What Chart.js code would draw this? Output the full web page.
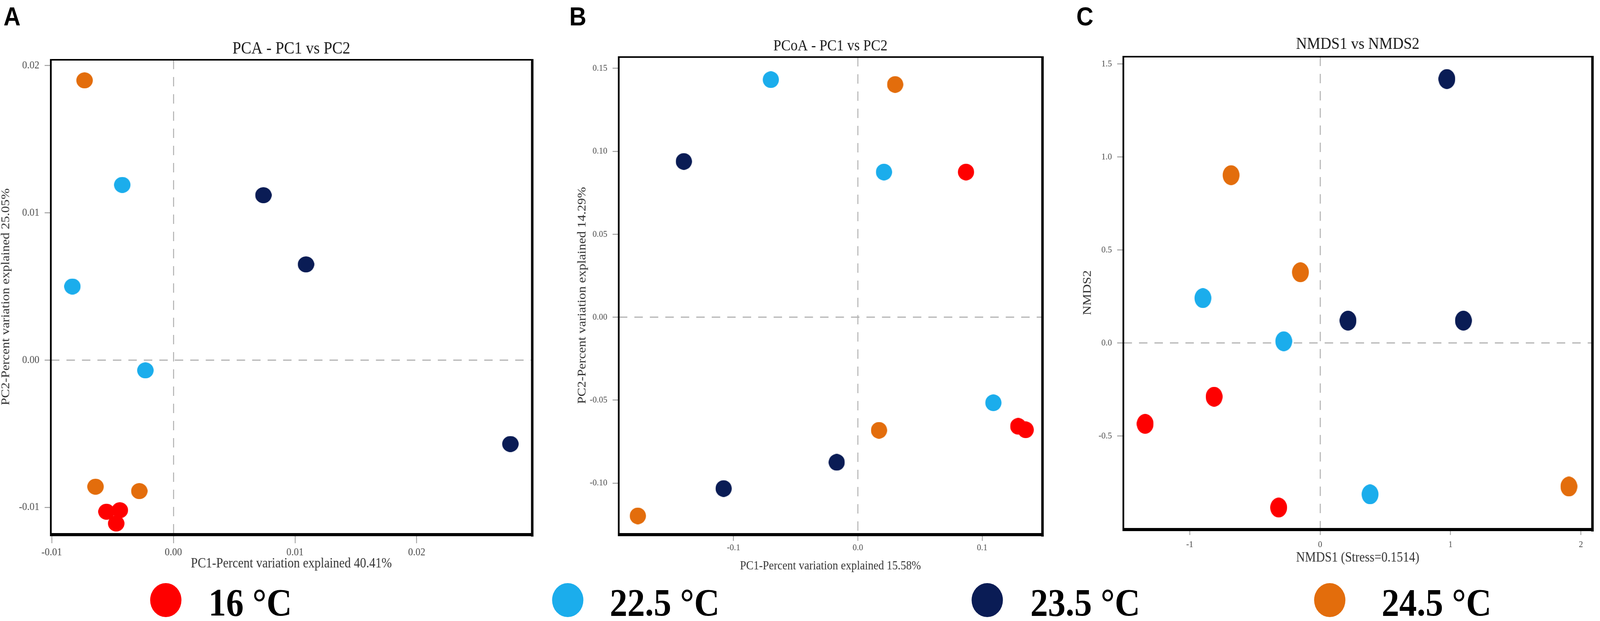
<!DOCTYPE html>
<html>
<head>
<meta charset="utf-8">
<title>PCA / PCoA / NMDS</title>
<script src="https://cdn.jsdelivr.net/npm/chart.js@4.4.1/dist/chart.umd.min.js"></script>
<style>
  html, body { margin: 0; padding: 0; background: #fff; overflow: hidden; }
  #page { position: relative; width: 4550px; height: 1589px; overflow: hidden; background: #fff; transform-origin: 0 0; }
  #page canvas { position: absolute; top: 0; }
  .tag { position: absolute; top: 8px; font: bold 67px 'Liberation Sans', Arial, sans-serif; line-height: 1; color: #000; }
  .key { position: absolute; top: 1492px; font: bold 100px 'Liberation Serif', 'Times New Roman', serif; line-height: 1; color: #000; white-space: nowrap; }
  .dot { position: absolute; border-radius: 50%; }
</style>
</head>
<body>
<div id="page">
  <div class="tag" style="left:10px">A</div>
  <div class="tag" style="left:1619px">B</div>
  <div class="tag" style="left:3061px">C</div>
  <canvas id="pca" width="1540" height="1480" style="left:0px;width:1540px;height:1480px"></canvas>
  <canvas id="pcoa" width="1400" height="1480" style="left:1600px;width:1400px;height:1480px"></canvas>
  <canvas id="nmds" width="1510" height="1480" style="left:3040px;width:1510px;height:1480px"></canvas>
</div>
<script>
// groups (temperature treatments)
var groupLabels = ['16 °C', '22.5 °C', '23.5 °C', '24.5 °C'];
var groupColors = ['#fe0000', '#1badec', '#0a1c55', '#e36d0c'];

// A: PCA, [PC1, PC2] per sample
var pca16  = [[-0.0055, -0.0103], [-0.0044, -0.0102], [-0.0047, -0.0111]];
var pca225 = [[-0.0042, 0.0119], [-0.0083, 0.0050], [-0.0023, -0.0007]];
var pca235 = [[0.0074, 0.0112], [0.0109, 0.0065], [0.0277, -0.0057]];
var pca245 = [[-0.0073, 0.0190], [-0.0064, -0.0086], [-0.0028, -0.0089]];
var pcaXTicks = [-0.01, 0, 0.01, 0.02];
var pcaXLabels = ['-0.01', '0.00', '0.01', '0.02'];
var pcaYTicks = [-0.01, 0, 0.01, 0.02];
var pcaYLabels = ['-0.01', '0.00', '0.01', '0.02'];

// B: PCoA, [PC1, PC2] per sample
var pcoa16  = [[0.087, 0.0875], [0.129, -0.0658], [0.135, -0.0679]];
var pcoa225 = [[-0.070, 0.1432], [0.021, 0.0875], [0.109, -0.0516]];
var pcoa235 = [[-0.140, 0.0939], [-0.017, -0.0875], [-0.108, -0.1033]];
var pcoa245 = [[0.030, 0.1403], [0.017, -0.0682], [-0.177, -0.1198]];
var pcoaXTicks = [-0.1, 0, 0.1];
var pcoaXLabels = ['-0.1', '0.0', '0.1'];
var pcoaYTicks = [-0.10, -0.05, 0, 0.05, 0.10, 0.15];
var pcoaYLabels = ['-0.10', '-0.05', '0.00', '0.05', '0.10', '0.15'];

// C: NMDS, [NMDS1, NMDS2] per sample
var nmds16  = [[-0.813, -0.289], [-1.342, -0.435], [-0.318, -0.885]];
var nmds225 = [[-0.899, 0.241], [-0.279, 0.009], [0.383, -0.814]];
var nmds235 = [[0.972, 1.419], [0.214, 0.120], [1.099, 0.120]];
var nmds245 = [[-0.683, 0.902], [-0.151, 0.380], [1.908, -0.772]];
var nmdsXTicks = [-1, 0, 1, 2];
var nmdsXLabels = ['-1', '0', '1', '2'];
var nmdsYTicks = [-0.5, 0, 0.5, 1.0, 1.5];
var nmdsYLabels = ['-0.5', '0.0', '0.5', '1.0', '1.5'];

var serif = "'Liberation Serif', 'Times New Roman', serif";

// the figure is laid out 4550 wide; squeeze it if the window is narrower
var page = document.getElementById('page');
var fit = Math.min(1, window.innerWidth / 4550);
if (fit < 1) page.style.transform = 'scaleX(' + fit + ')';

// bottom legend
var keyDotX = [471, 1614, 2807, 3781];
var keyTextX = [593, 1734, 2930, 3929];
for (var k = 0; k < groupLabels.length; k++) {
  var d = document.createElement('div');
  d.className = 'dot';
  d.style.cssText = 'left:' + (keyDotX[k] - 44.5) + 'px;top:' + (1535 - 43.5) + 'px;width:89px;height:87px;background:' + groupColors[k];
  page.appendChild(d);
  var t = document.createElement('div');
  t.className = 'key';
  t.style.left = keyTextX[k] + 'px';
  t.textContent = groupLabels[k];
  page.appendChild(t);
}

function ellipseDot(color, w, h) {
  var c = document.createElement('canvas');
  c.width = w;
  c.height = h;
  var g = c.getContext('2d');
  g.fillStyle = color;
  g.beginPath();
  g.ellipse(w / 2, h / 2, w / 2, h / 2, 0, 0, Math.PI * 2);
  g.fill();
  return c;
}

// black box round the plot, heavier on the bottom and right
var framePlugin = {
  id: 'frame',
  afterDraw: function (chart) {
    var ctx = chart.ctx, a = chart.chartArea;
    var w = a.right - a.left, h = a.bottom - a.top;
    ctx.save();
    ctx.fillStyle = '#000';
    ctx.fillRect(a.left - 2, a.top - 2, w + 4, 4);
    ctx.fillRect(a.left - 3, a.top - 2, 5, h + 6);
    ctx.fillRect(a.right - 2, a.top - 2, 7, h + 9);
    ctx.fillRect(a.left - 3, a.bottom - 2, w + 8, 8);
    ctx.restore();
  }
};

function axis(min, max, ticks, labels, o) {
  return {
    type: 'linear',
    min: min,
    max: max,
    bounds: 'data',
    afterBuildTicks: function (s) { s.ticks = ticks.map(function (v) { return { value: v }; }); },
    afterFit: function (s) { if (s.isHorizontal()) { s.height = o.size; } else { s.width = o.size; } },
    ticks: {
      autoSkip: false,
      maxRotation: 0,
      padding: o.pad,
      color: '#4a4a4a',
      font: { family: serif, size: o.font, lineHeight: 1 },
      callback: function (v, i) { return labels[i]; }
    },
    grid: {
      drawOnChartArea: true,
      drawTicks: true,
      tickLength: o.tick,
      tickWidth: 2,
      tickColor: '#8a8a8a',
      lineWidth: 3,
      color: function (c) { return (c.tick && c.tick.value === 0) ? '#b4b4b4' : 'rgba(0,0,0,0)'; }
    },
    border: { display: false, dash: [24, 20] },
    title: {
      display: true,
      text: o.title,
      color: '#333',
      font: { family: serif, size: o.titleSize, lineHeight: 1 },
      padding: o.titlePad
    }
  };
}

function drawPanel(id, p) {
  var datasets = p.series.map(function (s, i) {
    return {
      label: groupLabels[i],
      data: s.map(function (d) { return { x: d[0], y: d[1] }; }),
      pointStyle: ellipseDot(groupColors[i], p.dot[0], p.dot[1]),
      pointRadius: 22
    };
  });
  return new Chart(document.getElementById(id), {
    type: 'scatter',
    data: { datasets: datasets },
    options: {
      responsive: false,
      animation: false,
      events: [],
      layout: { padding: { left: 0, top: 0, right: p.padRight, bottom: 0 } },
      plugins: {
        legend: { display: false },
        tooltip: { enabled: false },
        title: {
          display: true,
          text: p.title,
          fullSize: false,
          color: '#1a1a1a',
          font: { family: serif, size: p.titleSize, weight: 'normal', lineHeight: 1 },
          padding: { top: p.titleTop, bottom: p.titleBottom }
        }
      },
      scales: { x: p.x, y: p.y }
    },
    plugins: [framePlugin]
  });
}

drawPanel('pca', {
  title: 'PCA - PC1 vs PC2', titleSize: 44, titleTop: 103, titleBottom: 6,
  padRight: 28, dot: [47, 41],
  series: [pca16, pca225, pca235, pca245],
  x: axis(-0.010058, 0.029451, pcaXTicks, pcaXLabels, {
    size: 114, pad: 10, tick: 24, font: 28,
    title: 'PC1-Percent variation explained 40.41%', titleSize: 35, titlePad: { top: 0, bottom: 19.5 }
  }),
  y: axis(-0.011805, 0.020398, pcaYTicks, pcaYLabels, {
    size: 145, pad: 15, tick: 18, font: 28,
    title: 'PC2-Percent variation explained 25.05%', titleSize: 34, titlePad: { top: 0, bottom: 0 }
  })
});

drawPanel('pcoa', {
  title: 'PCoA - PC1 vs PC2', titleSize: 40, titleTop: 98, titleBottom: 8,
  padRight: 37, dot: [46, 43],
  series: [pcoa16, pcoa225, pcoa235, pcoa245],
  x: axis(-0.19222, 0.14809, pcoaXTicks, pcoaXLabels, {
    size: 114, pad: 6, tick: 18, font: 24,
    title: 'PC1-Percent variation explained 15.58%', titleSize: 31.5, titlePad: { top: 0, bottom: 16 }
  }),
  y: axis(-0.13063, 0.15683, pcoaYTicks, pcoaYLabels, {
    size: 160, pad: 15, tick: 18, font: 24,
    title: 'PC2-Percent variation explained 14.29%', titleSize: 34, titlePad: { top: 39, bottom: 0 }
  })
});

drawPanel('nmds', {
  title: 'NMDS1 vs NMDS2', titleSize: 43, titleTop: 92.5, titleBottom: 9.5,
  padRight: 18, dot: [48, 51],
  series: [nmds16, nmds225, nmds235, nmds245],
  x: axis(-1.5078, 2.0846, nmdsXTicks, nmdsXLabels, {
    size: 127, pad: 13, tick: 16, font: 24,
    title: 'NMDS1 (Stress=0.1514)', titleSize: 35, titlePad: { top: 0, bottom: 34.5 }
  }),
  y: axis(-0.999, 1.5391, nmdsYTicks, nmdsYLabels, {
    size: 155, pad: 15, tick: 18, font: 24,
    title: 'NMDS2', titleSize: 34, titlePad: { top: 36, bottom: 0 }
  })
});
</script>
</body>
</html>
